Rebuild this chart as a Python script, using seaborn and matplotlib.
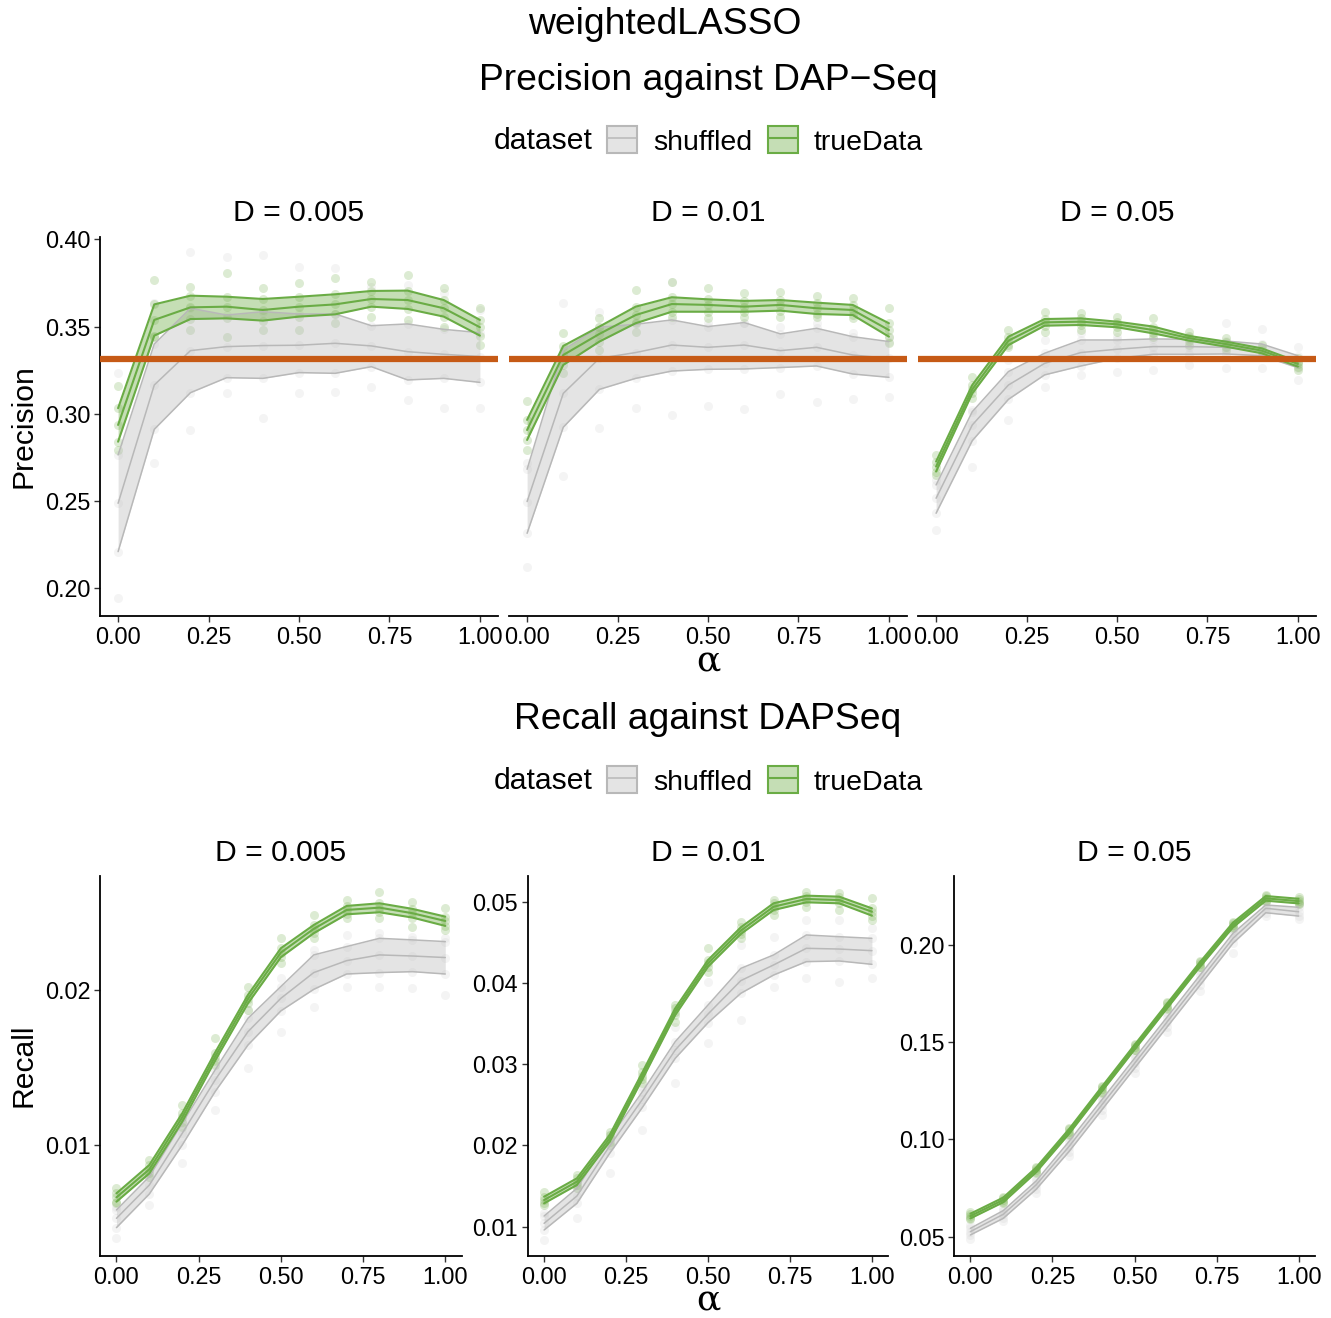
import numpy as np
import pandas as pd
import matplotlib
matplotlib.use("Agg")
import matplotlib.pyplot as plt
import seaborn as sns
from matplotlib.patches import Patch
from matplotlib.lines import Line2D
from matplotlib.legend_handler import HandlerTuple
from matplotlib.ticker import FixedLocator, FormatStrFormatter

# ---------------- data ----------------
alpha = [0.0, 0.1, 0.2, 0.3, 0.4, 0.5, 0.6, 0.7, 0.8, 0.9, 1.0]
D_labels = ["D = 0.005", "D = 0.01", "D = 0.05"]
datasets = ["shuffled", "trueData"]
precision_baseline = 0.3314

# Precision, D = 0.005
P005_shuf_lo = [0.2210, 0.2911, 0.3121, 0.3207, 0.3203, 0.3236, 0.3232, 0.3270, 0.3194, 0.3203, 0.3180]
P005_shuf_mid = [0.2487, 0.3165, 0.3362, 0.3385, 0.3391, 0.3393, 0.3404, 0.3389, 0.3356, 0.3341, 0.3328]
P005_shuf_hi = [0.2764, 0.3400, 0.3605, 0.3566, 0.3585, 0.3572, 0.3572, 0.3505, 0.3515, 0.3484, 0.3465]
P005_shuf_min = [0.1943, 0.2716, 0.2907, 0.3117, 0.2974, 0.3117, 0.3127, 0.3156, 0.3079, 0.3032, 0.3032]
P005_shuf_max = [0.3232, 0.3633, 0.3929, 0.3900, 0.3910, 0.3840, 0.3834, 0.3729, 0.3738, 0.3690, 0.3595]
P005_true_lo = [0.2840, 0.3448, 0.3543, 0.3547, 0.3534, 0.3557, 0.3570, 0.3614, 0.3601, 0.3557, 0.3448]
P005_true_mid = [0.2936, 0.3538, 0.3610, 0.3614, 0.3595, 0.3614, 0.3627, 0.3658, 0.3652, 0.3605, 0.3496]
P005_true_hi = [0.3032, 0.3627, 0.3677, 0.3671, 0.3658, 0.3671, 0.3685, 0.3704, 0.3706, 0.3652, 0.3538]
P005_true_min = [0.2793, 0.3442, 0.3480, 0.3442, 0.3480, 0.3480, 0.3519, 0.3557, 0.3538, 0.3500, 0.3394]
P005_true_max = [0.3160, 0.3767, 0.3729, 0.3805, 0.3720, 0.3748, 0.3776, 0.3757, 0.3796, 0.3720, 0.3605]

# Precision, D = 0.01
P01_shuf_lo = [0.2315, 0.2923, 0.3140, 0.3203, 0.3245, 0.3255, 0.3257, 0.3265, 0.3274, 0.3228, 0.3209]
P01_shuf_mid = [0.2497, 0.3117, 0.3318, 0.3351, 0.3394, 0.3381, 0.3394, 0.3362, 0.3381, 0.3337, 0.3318]
P01_shuf_hi = [0.2682, 0.3366, 0.3496, 0.3513, 0.3538, 0.3500, 0.3523, 0.3458, 0.3490, 0.3442, 0.3414]
P01_shuf_min = [0.2124, 0.2644, 0.2917, 0.3032, 0.2993, 0.3042, 0.3025, 0.3114, 0.3066, 0.3085, 0.3097]
P01_shuf_max = [0.2716, 0.3633, 0.3585, 0.3528, 0.3757, 0.3519, 0.3519, 0.3500, 0.3519, 0.3461, 0.3442]
P01_true_lo = [0.2850, 0.3280, 0.3414, 0.3519, 0.3585, 0.3585, 0.3585, 0.3591, 0.3572, 0.3566, 0.3442]
P01_true_mid = [0.2907, 0.3337, 0.3458, 0.3566, 0.3629, 0.3624, 0.3614, 0.3624, 0.3605, 0.3595, 0.3480]
P01_true_hi = [0.2965, 0.3389, 0.3500, 0.3614, 0.3668, 0.3656, 0.3647, 0.3652, 0.3637, 0.3624, 0.3519]
P01_true_min = [0.2793, 0.3232, 0.3366, 0.3471, 0.3557, 0.3547, 0.3557, 0.3557, 0.3557, 0.3547, 0.3404]
P01_true_max = [0.3075, 0.3461, 0.3547, 0.3710, 0.3757, 0.3719, 0.3690, 0.3700, 0.3675, 0.3662, 0.3605]

# Precision, D = 0.05
P05_shuf_lo = [0.2430, 0.2846, 0.3083, 0.3223, 0.3274, 0.3318, 0.3341, 0.3341, 0.3343, 0.3333, 0.3264]
P05_shuf_mid = [0.2516, 0.2936, 0.3165, 0.3289, 0.3351, 0.3370, 0.3385, 0.3385, 0.3381, 0.3366, 0.3299]
P05_shuf_hi = [0.2592, 0.3012, 0.3242, 0.3347, 0.3423, 0.3423, 0.3429, 0.3427, 0.3417, 0.3400, 0.3333]
P05_shuf_min = [0.2334, 0.2697, 0.2965, 0.3156, 0.3223, 0.3242, 0.3251, 0.3280, 0.3261, 0.3261, 0.3194]
P05_shuf_max = [0.2621, 0.3022, 0.3308, 0.3423, 0.3461, 0.3442, 0.3461, 0.3442, 0.3519, 0.3484, 0.3385]
P05_true_lo = [0.2669, 0.3117, 0.3394, 0.3505, 0.3509, 0.3496, 0.3461, 0.3419, 0.3385, 0.3347, 0.3270]
P05_true_mid = [0.2697, 0.3140, 0.3419, 0.3524, 0.3528, 0.3513, 0.3480, 0.3433, 0.3400, 0.3362, 0.3286]
P05_true_hi = [0.2726, 0.3165, 0.3442, 0.3543, 0.3547, 0.3528, 0.3500, 0.3446, 0.3414, 0.3375, 0.3299]
P05_true_min = [0.2650, 0.3089, 0.3385, 0.3471, 0.3480, 0.3471, 0.3442, 0.3394, 0.3366, 0.3328, 0.3251]
P05_true_max = [0.2764, 0.3213, 0.3480, 0.3585, 0.3576, 0.3557, 0.3547, 0.3471, 0.3433, 0.3394, 0.3318]

# Recall, D = 0.005
R005_shuf_lo = [0.00467, 0.00684, 0.01000, 0.01344, 0.01645, 0.01865, 0.02004, 0.02103, 0.02112, 0.02118, 0.02103]
R005_shuf_mid = [0.00527, 0.00742, 0.01075, 0.01419, 0.01731, 0.01946, 0.02112, 0.02189, 0.02226, 0.02219, 0.02209]
R005_shuf_hi = [0.00581, 0.00796, 0.01140, 0.01484, 0.01817, 0.02022, 0.02226, 0.02280, 0.02333, 0.02323, 0.02312]
R005_shuf_min = [0.00398, 0.00613, 0.00882, 0.01226, 0.01495, 0.01731, 0.01892, 0.02022, 0.02022, 0.02011, 0.01968]
R005_shuf_max = [0.00602, 0.00817, 0.01183, 0.01548, 0.01871, 0.02075, 0.02258, 0.02355, 0.02366, 0.02344, 0.02333]
R005_true_lo = [0.00634, 0.00817, 0.01150, 0.01544, 0.01914, 0.02211, 0.02366, 0.02488, 0.02501, 0.02467, 0.02413]
R005_true_mid = [0.00662, 0.00843, 0.01178, 0.01570, 0.01942, 0.02241, 0.02394, 0.02516, 0.02531, 0.02495, 0.02445]
R005_true_hi = [0.00688, 0.00871, 0.01204, 0.01596, 0.01968, 0.02269, 0.02419, 0.02542, 0.02559, 0.02523, 0.02473]
R005_true_min = [0.00624, 0.00796, 0.01118, 0.01516, 0.01871, 0.02172, 0.02333, 0.02462, 0.02462, 0.02409, 0.02387]
R005_true_max = [0.00720, 0.00903, 0.01258, 0.01688, 0.02022, 0.02333, 0.02484, 0.02581, 0.02634, 0.02570, 0.02527]

# Recall, D = 0.01
R01_shuf_lo = [0.00959, 0.01287, 0.01903, 0.02469, 0.03072, 0.03511, 0.03872, 0.04097, 0.04262, 0.04270, 0.04229]
R01_shuf_mid = [0.01041, 0.01377, 0.01993, 0.02567, 0.03174, 0.03617, 0.04028, 0.04221, 0.04426, 0.04417, 0.04397]
R01_shuf_hi = [0.01131, 0.01472, 0.02087, 0.02662, 0.03277, 0.03728, 0.04179, 0.04344, 0.04590, 0.04569, 0.04549]
R01_shuf_min = [0.00836, 0.01103, 0.01656, 0.02190, 0.02764, 0.03256, 0.03544, 0.03954, 0.04056, 0.04015, 0.04056]
R01_shuf_max = [0.01164, 0.01513, 0.02128, 0.02723, 0.03462, 0.04015, 0.04467, 0.04569, 0.04774, 0.04774, 0.04672]
R01_true_lo = [0.01287, 0.01513, 0.02046, 0.02817, 0.03605, 0.04200, 0.04602, 0.04897, 0.04992, 0.04980, 0.04828]
R01_true_mid = [0.01328, 0.01554, 0.02087, 0.02858, 0.03646, 0.04241, 0.04643, 0.04938, 0.05033, 0.05020, 0.04877]
R01_true_hi = [0.01369, 0.01595, 0.02128, 0.02900, 0.03687, 0.04282, 0.04684, 0.04980, 0.05074, 0.05062, 0.04918]
R01_true_min = [0.01267, 0.01472, 0.02005, 0.02764, 0.03523, 0.04138, 0.04549, 0.04836, 0.04938, 0.04897, 0.04774]
R01_true_max = [0.01431, 0.01636, 0.02169, 0.02990, 0.03728, 0.04426, 0.04754, 0.05020, 0.05123, 0.05103, 0.05041]

# Recall, D = 0.05
R05_shuf_lo = [0.0509, 0.0594, 0.0743, 0.0937, 0.1151, 0.1366, 0.1580, 0.1794, 0.2009, 0.2166, 0.2149]
R05_shuf_mid = [0.0526, 0.0615, 0.0766, 0.0963, 0.1177, 0.1391, 0.1606, 0.1820, 0.2034, 0.2189, 0.2171]
R05_shuf_hi = [0.0543, 0.0634, 0.0786, 0.0989, 0.1203, 0.1417, 0.1631, 0.1846, 0.2060, 0.2206, 0.2194]
R05_shuf_min = [0.0490, 0.0580, 0.0725, 0.0915, 0.1125, 0.1340, 0.1555, 0.1765, 0.1960, 0.2150, 0.2135]
R05_shuf_max = [0.0558, 0.0650, 0.0800, 0.1005, 0.1220, 0.1435, 0.1650, 0.1865, 0.2075, 0.2220, 0.2210]
R05_true_lo = [0.0594, 0.0677, 0.0831, 0.1028, 0.1246, 0.1462, 0.1676, 0.1889, 0.2091, 0.2228, 0.2214]
R05_true_mid = [0.0606, 0.0689, 0.0843, 0.1040, 0.1258, 0.1474, 0.1688, 0.1901, 0.2103, 0.2240, 0.2226]
R05_true_hi = [0.0618, 0.0701, 0.0855, 0.1052, 0.1270, 0.1486, 0.1700, 0.1913, 0.2115, 0.2252, 0.2238]
R05_true_min = [0.0590, 0.0675, 0.0830, 0.1025, 0.1240, 0.1458, 0.1672, 0.1885, 0.2088, 0.2225, 0.2210]
R05_true_max = [0.0628, 0.0705, 0.0860, 0.1058, 0.1275, 0.1490, 0.1705, 0.1918, 0.2120, 0.2258, 0.2245]

precision_panels = [
    {"shuffled": (P005_shuf_lo, P005_shuf_mid, P005_shuf_hi, P005_shuf_min, P005_shuf_max),
     "trueData": (P005_true_lo, P005_true_mid, P005_true_hi, P005_true_min, P005_true_max)},
    {"shuffled": (P01_shuf_lo, P01_shuf_mid, P01_shuf_hi, P01_shuf_min, P01_shuf_max),
     "trueData": (P01_true_lo, P01_true_mid, P01_true_hi, P01_true_min, P01_true_max)},
    {"shuffled": (P05_shuf_lo, P05_shuf_mid, P05_shuf_hi, P05_shuf_min, P05_shuf_max),
     "trueData": (P05_true_lo, P05_true_mid, P05_true_hi, P05_true_min, P05_true_max)},
]
recall_panels = [
    {"shuffled": (R005_shuf_lo, R005_shuf_mid, R005_shuf_hi, R005_shuf_min, R005_shuf_max),
     "trueData": (R005_true_lo, R005_true_mid, R005_true_hi, R005_true_min, R005_true_max)},
    {"shuffled": (R01_shuf_lo, R01_shuf_mid, R01_shuf_hi, R01_shuf_min, R01_shuf_max),
     "trueData": (R01_true_lo, R01_true_mid, R01_true_hi, R01_true_min, R01_true_max)},
    {"shuffled": (R05_shuf_lo, R05_shuf_mid, R05_shuf_hi, R05_shuf_min, R05_shuf_max),
     "trueData": (R05_true_lo, R05_true_mid, R05_true_hi, R05_true_min, R05_true_max)},
]

x_ticks = [0.0, 0.25, 0.5, 0.75, 1.0]
precision_yticks = [0.20, 0.25, 0.30, 0.35, 0.40]
recall_yticks = [[0.01, 0.02], [0.01, 0.02, 0.03, 0.04, 0.05], [0.05, 0.10, 0.15, 0.20]]

# ---------------- style ----------------
sns.set_style("ticks")
plt.rcParams["font.family"] = ["Liberation Sans", "DejaVu Sans"]
plt.rcParams["text.color"] = "black"
plt.rcParams["axes.labelcolor"] = "black"

LINE_COL = {"shuffled": "#b8b8b8", "trueData": "#6aac45"}
PT_COL = {"shuffled": "#c4c4c4", "trueData": "#70ad47"}
FILL_COL = {"shuffled": "#bdbdbd", "trueData": "#70ad47"}
LW = {"shuffled": 1.1, "trueData": 1.5}
PT_ALPHA = {"shuffled": 0.18, "trueData": 0.24}
HLINE_COL = "#c65a16"

TITLE_FS = 26.8
LAB_FS = 21.7
LEG_FS = 20.5
TICK_FS = 16.8

W, H = 1331, 1318
fig = plt.figure(figsize=(W / 100, H / 100), dpi=100)


def add_ax(x0, x1, ytop, ybot):
    return fig.add_axes([x0 / W, 1 - ybot / H, (x1 - x0) / W, (ybot - ytop) / H])


def long_frames(panel):
    pts, lines = [], []
    for ds in datasets:
        lo, mid, hi, mn, mx = panel[ds]
        for i, a in enumerate(alpha):
            for v in (mn[i], lo[i], mid[i], hi[i], mx[i]):
                pts.append({"alpha": a, "value": v, "dataset": ds})
            for stat, arr in (("lo", lo), ("mid", mid), ("hi", hi)):
                lines.append({"alpha": a, "value": arr[i], "dataset": ds, "stat": stat})
    return pd.DataFrame(pts), pd.DataFrame(lines)


def draw_panel(ax, panel, ylim, yticks, show_left=True, hline=None):
    pts, lines = long_frames(panel)
    for ds in datasets:
        sub = pts[pts.dataset == ds]
        sns.scatterplot(data=sub, x="alpha", y="value", color=PT_COL[ds], alpha=PT_ALPHA[ds],
                        s=42, linewidth=0, ax=ax, legend=False, zorder=1)
    for ds in datasets:
        lo, mid, hi, mn, mx = panel[ds]
        ax.fill_between(alpha, lo, hi, color=FILL_COL[ds], alpha=0.4, linewidth=0, zorder=2)
    for ds in datasets:
        sub = lines[lines.dataset == ds]
        sns.lineplot(data=sub, x="alpha", y="value", units="stat", estimator=None,
                     color=LINE_COL[ds], linewidth=LW[ds], ax=ax, legend=False, zorder=3)
    if hline is not None:
        ax.axhline(hline, color=HLINE_COL, linewidth=4.5, zorder=5)
    ax.set_xlim(-0.05, 1.05)
    ax.set_ylim(*ylim)
    ax.xaxis.set_major_locator(FixedLocator(x_ticks))
    ax.xaxis.set_major_formatter(FormatStrFormatter("%.2f"))
    ax.set_xlabel("")
    ax.set_ylabel("")
    for s in ("top", "right"):
        ax.spines[s].set_visible(False)
    for s in ("bottom", "left"):
        ax.spines[s].set_linewidth(1.3)
        ax.spines[s].set_color("black")
    ax.tick_params(axis="both", labelsize=TICK_FS, length=4, width=1, color="#333333",
                   labelcolor="black", pad=3)
    if show_left:
        ax.yaxis.set_major_locator(FixedLocator(yticks))
        ax.yaxis.set_major_formatter(FormatStrFormatter("%.2f"))
    else:
        ax.spines["left"].set_visible(False)
        ax.tick_params(axis="y", left=False, labelleft=False)


# --- Precision row ---
prec_x = [(100, 498), (509, 907), (918, 1316)]
for j, (x0, x1) in enumerate(prec_x):
    ax = add_ax(x0, x1, 236.7, 616)
    draw_panel(ax, precision_panels[j], (0.1841, 0.4015), precision_yticks,
               show_left=(j == 0), hline=precision_baseline)
    fig.text((x0 + x1) / 2 / W, 1 - 213 / H, D_labels[j], ha="center", va="center", fontsize=LAB_FS)

# --- Recall row ---
rec_x = [(100, 461.7), (527.7, 888.3), (954, 1315)]
rec_ylim = [(0.00284, 0.02735), (0.00639, 0.05316), (0.04006, 0.2355)]
for j, (x0, x1) in enumerate(rec_x):
    ax = add_ax(x0, x1, 876, 1256)
    draw_panel(ax, recall_panels[j], rec_ylim[j], recall_yticks[j], show_left=True)
    fig.text((x0 + x1) / 2 / W, 1 - 853 / H, D_labels[j], ha="center", va="center", fontsize=LAB_FS)

# --- titles and labels ---
fig.text(665 / W, 1 - 24 / H, "weightedLASSO", ha="center", va="center", fontsize=TITLE_FS)
fig.text(708 / W, 1 - 80 / H, "Precision against DAP\u2212Seq", ha="center", va="center", fontsize=TITLE_FS)
fig.text(708 / W, 1 - 720 / H, "Recall against DAPSeq", ha="center", va="center", fontsize=TITLE_FS)
fig.text(24 / W, 1 - 426 / H, "Precision", ha="center", va="center", rotation=90, fontsize=LAB_FS)
fig.text(24 / W, 1 - 1065 / H, "Recall", ha="center", va="center", rotation=90, fontsize=LAB_FS)
for yb in (671, 1310):
    fig.text(708 / W, 1 - yb / H, "\u03b1", ha="center", va="baseline", fontsize=26,
             family=["DejaVu Serif", "DejaVu Sans"])


def add_legend(yc):
    fig.text(494 / W, 1 - yc / H, "dataset", ha="left", va="center", fontsize=LAB_FS)
    handles = []
    for ds in datasets:
        p = Patch(facecolor=FILL_COL[ds], alpha=0.4, edgecolor="none")
        e = Patch(facecolor="none", edgecolor=LINE_COL[ds], linewidth=1.5)
        ln = Line2D([], [], color=LINE_COL[ds], linewidth=LW[ds])
        handles.append((p, e, ln))
    fig.legend(handles, datasets, loc="center left", bbox_to_anchor=(607 / W, 1 - yc / H),
               ncol=2, frameon=False, fontsize=LEG_FS, borderpad=0, borderaxespad=0,
               handlelength=1.07, handleheight=1.07, handletextpad=0.55, columnspacing=0.55,
               handler_map={tuple: HandlerTuple(ndivide=1, pad=0)})


add_legend(141)
add_legend(781)

fig.savefig("out.png", dpi=100)
